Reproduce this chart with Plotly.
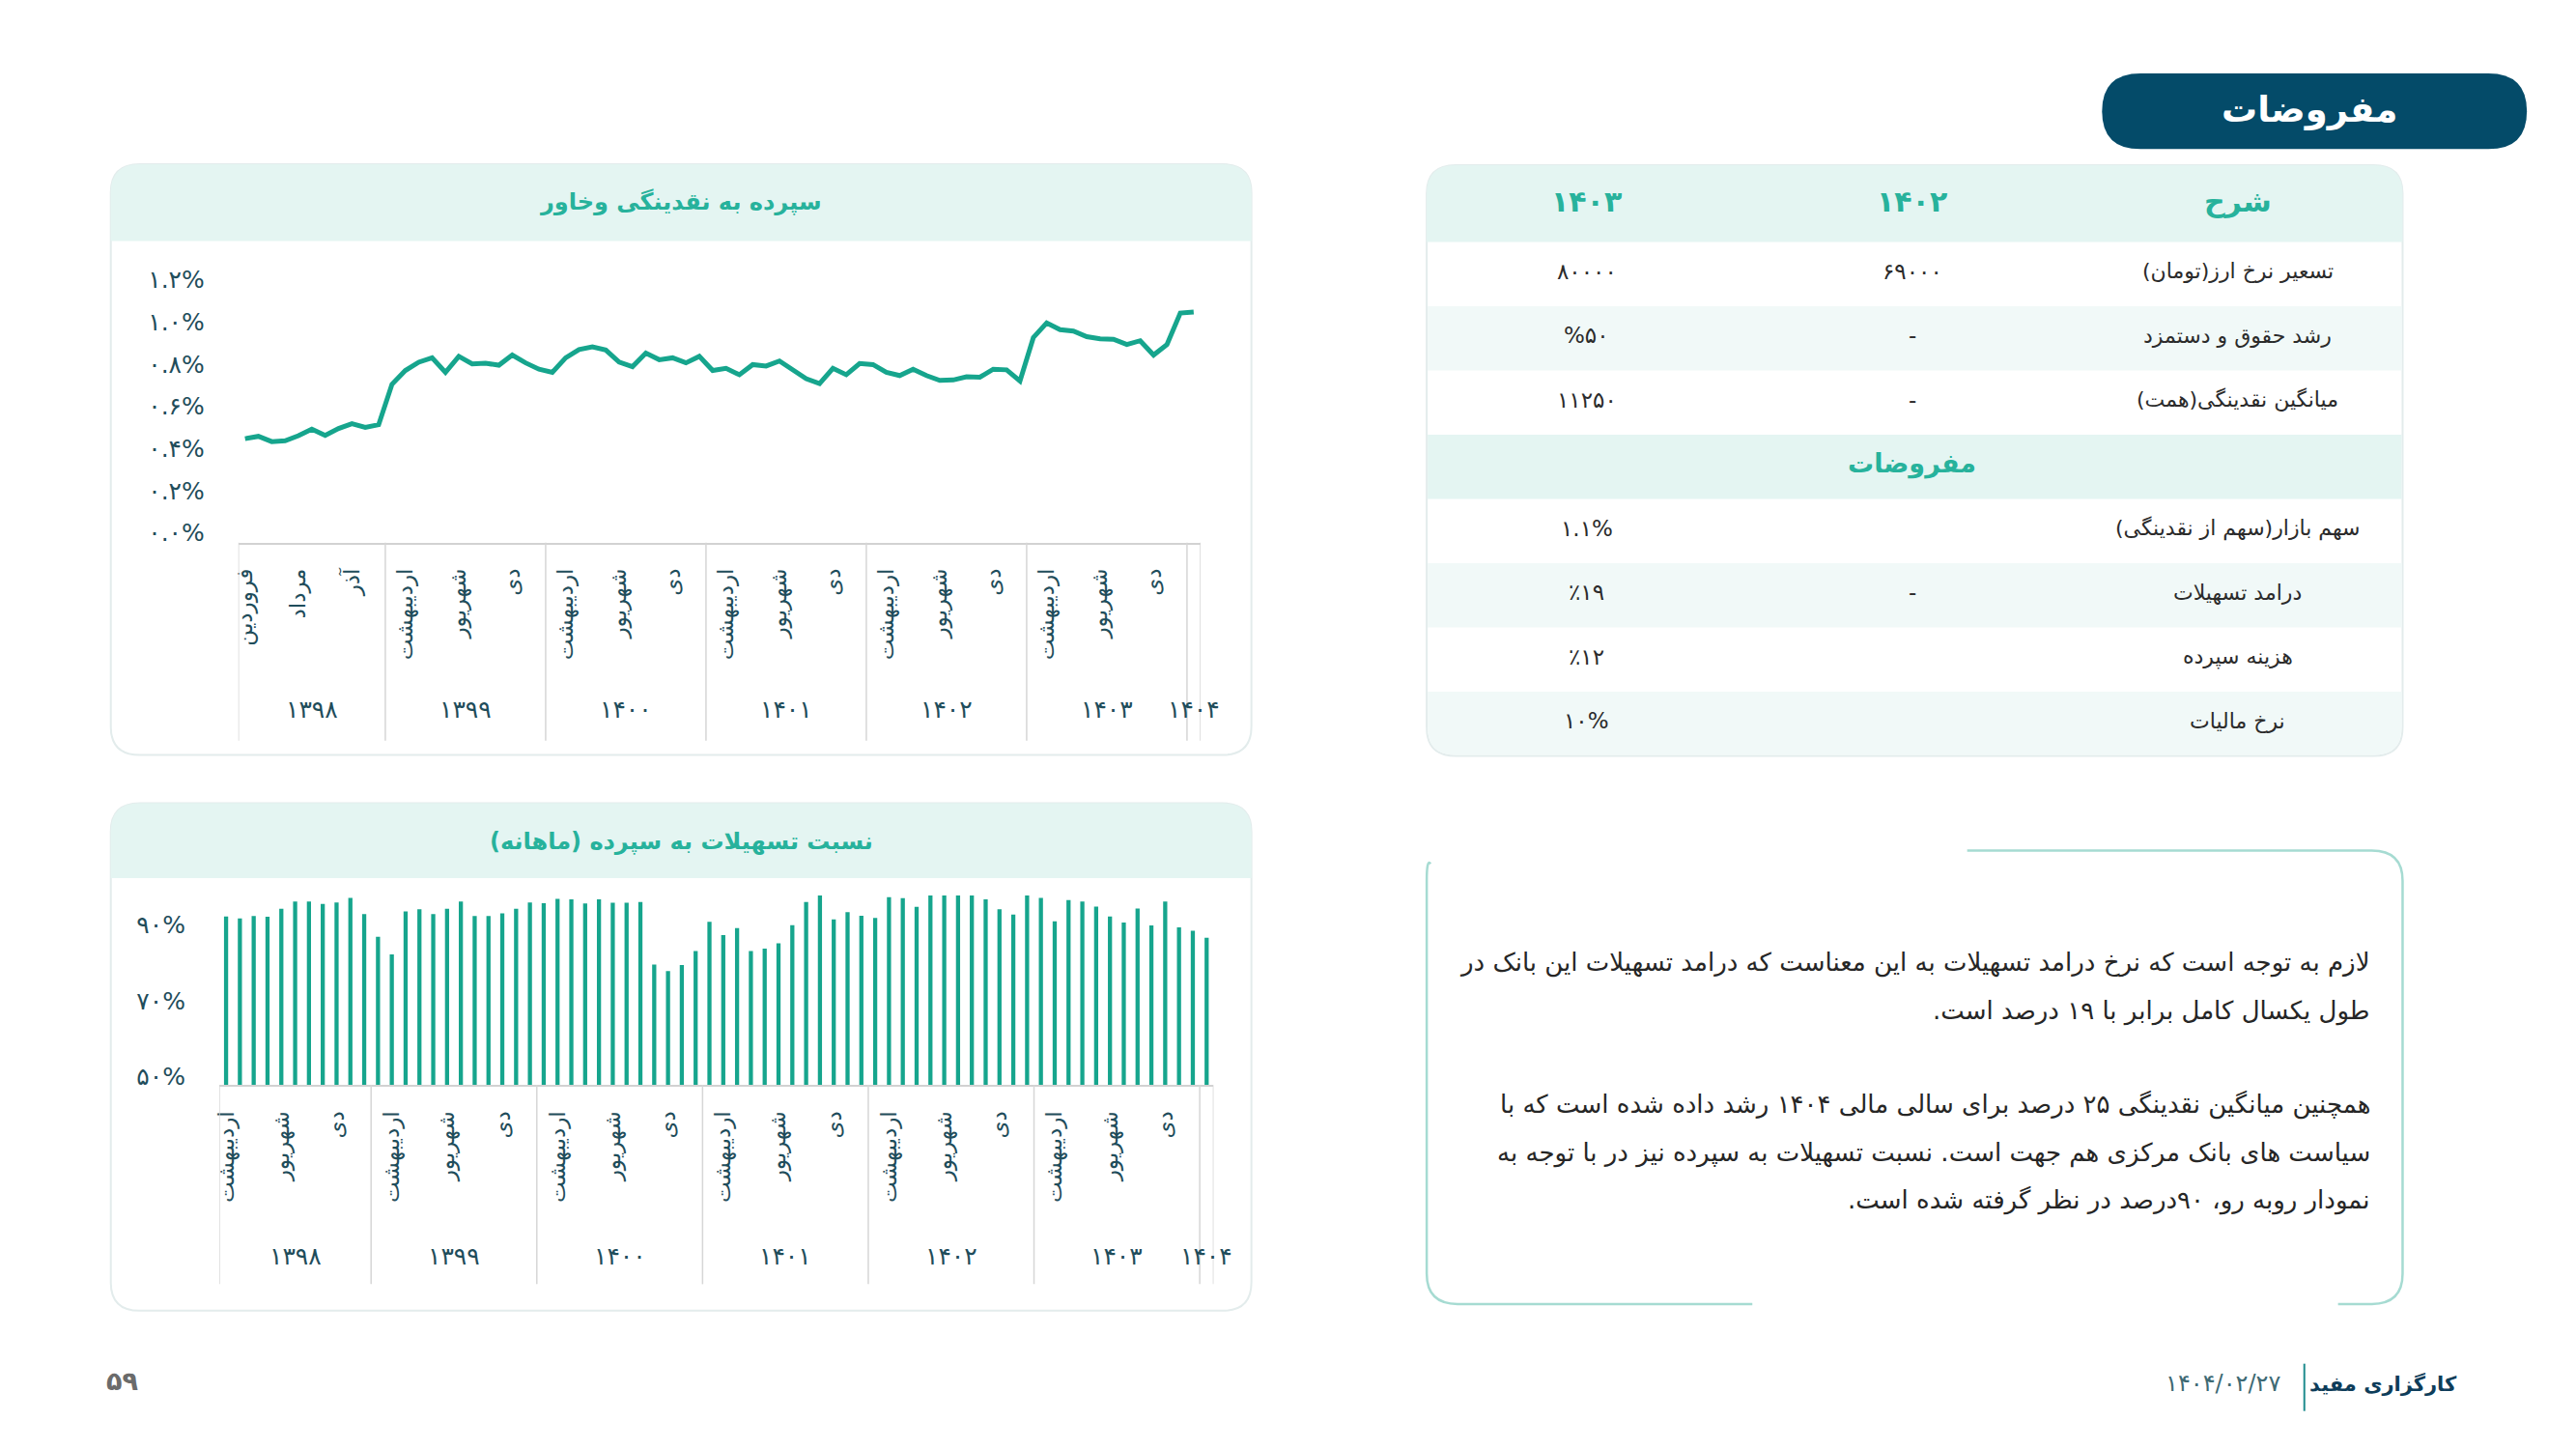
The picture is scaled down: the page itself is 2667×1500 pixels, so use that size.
import plotly.graph_objects as go

W, H = 2667, 1500
FONT = "DejaVu Sans"

# ---------------- data ----------------
MONTHS = ['فروردین', 'اردیبهشت', 'خرداد', 'تیر', 'مرداد', 'شهریور',
          'مهر', 'آبان', 'آذر', 'دی', 'بهمن', 'اسفند']
YEARS = ['۱۳۹۸', '۱۳۹۹', '۱۴۰۰', '۱۴۰۱', '۱۴۰۲', '۱۴۰۳', '۱۴۰۴']

line_months_per_year = [11, 12, 12, 12, 12, 12, 1]
line_start_month = 0
line_values = [0.492, 0.503, 0.478, 0.482, 0.506, 0.537, 0.507, 0.540, 0.563, 0.545, 0.558,
               0.750, 0.815, 0.854, 0.875, 0.806, 0.882, 0.846, 0.849, 0.840, 0.888, 0.851, 0.821,
               0.806, 0.875, 0.914, 0.927, 0.912, 0.855, 0.833, 0.897, 0.866, 0.875, 0.851, 0.882,
               0.815, 0.825, 0.795, 0.843, 0.836, 0.860, 0.815, 0.776, 0.753, 0.825, 0.795, 0.848,
               0.843, 0.806, 0.791, 0.821, 0.791, 0.768, 0.770, 0.785, 0.783, 0.821, 0.818, 0.765,
               0.971, 1.040, 1.008, 1.002, 0.975, 0.965, 0.963, 0.938, 0.956, 0.888, 0.938, 1.087,
               1.092]

bar_months_per_year = [11, 12, 12, 12, 12, 12, 1]
bar_start_month = 1
bar_values = [94.5, 94.0, 94.6, 94.4, 96.5, 98.4, 98.4, 97.8, 98.2, 99.4, 95.1,
              89.1, 84.5, 95.8, 96.4, 95.1, 96.5, 98.4, 94.6, 94.6, 95.3, 96.5, 98.2,
              98.0, 99.1, 99.0, 97.9, 99.0, 98.1, 98.1, 98.3, 81.8, 80.1, 81.7, 85.4,
              93.1, 89.6, 91.4, 85.4, 86.0, 87.4, 92.2, 98.3, 100.0, 93.7, 95.6, 94.7,
              94.1, 99.6, 99.3, 97.0, 100.0, 100.0, 100.0, 100.0, 99.0, 96.4, 95.0, 100.0,
              99.4, 93.2, 98.8, 98.4, 97.1, 94.5, 92.9, 96.6, 92.1, 98.4, 91.6, 90.7,
              88.9]

line_ytick_vals = [0, 0.2, 0.4, 0.6, 0.8, 1.0, 1.2]
line_ytick_text = ['۰.۰%', '۰.۲%', '۰.۴%', '۰.۶%', '۰.۸%', '۱.۰%', '۱.۲%']
bar_ytick_vals = [50, 70, 90]
bar_ytick_text = ['۵۰%', '۷۰%', '۹۰%']
label_step = 4

line_title = 'سپرده به نقدینگی وخاور'
bar_title = 'نسبت تسهیلات به سپرده (ماهانه)'
page_title = 'مفروضات'

table_header = ['شرح', '۱۴۰۲', '۱۴۰۳']
table_rows = ['تسعیر نرخ ارز(تومان)', 'رشد حقوق و دستمزد', 'میانگین نقدینگی(همت)', 'مفروضات',
              'سهم بازار(سهم از نقدینگی)', 'درامد تسهیلات', 'هزینه سپرده', 'نرخ مالیات']
table_1402 = ['۶۹۰۰۰', '-', '-', '', '', '-', '', '']
table_1403 = ['۸۰۰۰۰', '%۵۰', '۱۱۲۵۰', '', '۱.۱%', '٪۱۹', '٪۱۲', '۱۰%']
table_section_row = 3

note_lines = [
    'لازم به توجه است که نرخ درامد تسهیلات به این معناست که درامد تسهیلات این بانک در',
    'طول یکسال کامل برابر با ۱۹ درصد است.',
    'همچنین میانگین نقدینگی ۲۵ درصد برای سالی مالی ۱۴۰۴ رشد داده شده است که با',
    'سیاست های بانک مرکزی هم جهت است. نسبت تسهیلات به سپرده نیز در با توجه به',
    'نمودار روبه رو، ۹۰درصد در نظر گرفته شده است.',
]
footer_company = 'کارگزاری مفید'
footer_date = '۱۴۰۴/۰۲/۲۷'
footer_page = '۵۹'

# ---------------- helpers ----------------
TEAL = '#16a58d'
TITLE_TEAL = '#27b29c'
AXIS_TXT = '#1f4d5b'
MINT = '#e4f5f2'
FAINT = '#f1f9f8'


def X(x):
    return x / W


def Y(y):
    return 1 - y / H


def rtl(s):
    return '\u202b' + s + '\u202c'


def build_categories(counts, start):
    cats, labels, bounds = [], [], [0]
    for k, (yr, n) in enumerate(zip(YEARS, counts)):
        s = start if k == 0 else 0
        for j in range(n):
            m = MONTHS[(s + j) % 12]
            cats.append(f'{m} {yr}')
            labels.append(m)
        bounds.append(bounds[-1] + n)
    return cats, labels, bounds


def rrect(x0, y0, x1, y1, r, top=True, bottom=True):
    rt = r if top else 0
    rb = r if bottom else 0
    pts = [
        f'M {X(x0 + rt)},{Y(y0)}',
        f'L {X(x1 - rt)},{Y(y0)}',
        f'Q {X(x1)},{Y(y0)} {X(x1)},{Y(y0 + rt)}',
        f'L {X(x1)},{Y(y1 - rb)}',
        f'Q {X(x1)},{Y(y1)} {X(x1 - rb)},{Y(y1)}',
        f'L {X(x0 + rb)},{Y(y1)}',
        f'Q {X(x0)},{Y(y1)} {X(x0)},{Y(y1 - rb)}',
        f'L {X(x0)},{Y(y0 + rt)}',
        f'Q {X(x0)},{Y(y0)} {X(x0 + rt)},{Y(y0)}',
        'Z',
    ]
    return ' '.join(pts)


shapes = []
annotations = []


def panel(x0, y0, x1, y1, hb, r=30):
    shapes.append(dict(type='path', path=rrect(x0, y0, x1, y1, r), xref='paper', yref='paper',
                       fillcolor='white', line=dict(color='#e3ecec', width=2), layer='below'))
    shapes.append(dict(type='path', path=rrect(x0, y0, x1, hb, r, top=True, bottom=False),
                       xref='paper', yref='paper', fillcolor=MINT, line=dict(width=0), layer='below'))


def txt(x, y, s, size, color, bold=False, xanchor='center', yanchor='middle'):
    annotations.append(dict(x=X(x), y=Y(y), xref='paper', yref='paper', text=s, showarrow=False,
                            xanchor=xanchor, yanchor=yanchor,
                            font=dict(family=FONT, size=size, color=color,
                                      weight='bold' if bold else 'normal')))


# ---------------- panels ----------------
panel(108, 149, 1292, 773, 230)
panel(108, 824, 1292, 1360, 903)
txt(700, 189, rtl(line_title), 24, TITLE_TEAL, bold=True)
txt(700, 864, rtl(bar_title), 24, TITLE_TEAL, bold=True)

# ---------------- charts ----------------
line_cats, line_labels, line_bounds = build_categories(line_months_per_year, line_start_month)
bar_cats, bar_labels, bar_bounds = build_categories(bar_months_per_year, bar_start_month)

fig = go.Figure()
fig.add_trace(go.Scatter(x=line_cats, y=line_values, mode='lines',
                         line=dict(color=TEAL, width=5), xaxis='x', yaxis='y',
                         showlegend=False, hoverinfo='skip'))
fig.add_trace(go.Bar(x=bar_cats, y=bar_values, marker=dict(color=TEAL, line=dict(width=0)),
                     width=0.3, xaxis='x2', yaxis='y2', showlegend=False,
                     hoverinfo='skip'))

LINE_AX = dict(x0=240.4, x1=1239.0, y0=548.6, y1=281.0, div_bottom=758, year_y=725)
BAR_AX = dict(x0=220.5, x1=1252.7, y0=1121.8, y1=921.5, div_bottom=1332, year_y=1303)


def xaxis_cfg(cats, labels, ax):
    return dict(domain=[X(ax['x0']), X(ax['x1'])], type='category',
                range=[-0.5, len(cats) - 0.5],
                tickmode='array', tickvals=cats[::label_step], ticktext=labels[::label_step],
                tickangle=-90, tickfont=dict(family=FONT, size=23, color=AXIS_TXT),
                showline=True, linecolor='#d2d2d2', linewidth=1.5, showgrid=False,
                zeroline=False, ticks='', ticklabelstandoff=16, fixedrange=True)


def yaxis_cfg(ax, rng, vals, text, anchor, shift):
    return dict(domain=[Y(ax['y0']), Y(ax['y1'])], range=rng, anchor=anchor,
                tickmode='array', tickvals=vals, ticktext=text,
                tickfont=dict(family=FONT, size=25, color=AXIS_TXT), showgrid=False,
                zeroline=False, showline=False, ticks='', ticklabelstandoff=34,
                ticklabelshift=shift, fixedrange=True)


def add_groups(bounds, xref, ax):
    for b in bounds:
        shapes.append(dict(type='line', xref=xref, yref='paper', x0=b - 0.5, x1=b - 0.5,
                           y0=Y(ax['y0']), y1=Y(ax['div_bottom']),
                           line=dict(color='#d6d6d6', width=1.5)))
    for k, yr in enumerate(YEARS):
        mid = (bounds[k] + bounds[k + 1] - 1) / 2
        annotations.append(dict(x=mid, y=Y(ax['year_y']), xref=xref, yref='paper', text=yr,
                                showarrow=False, xanchor='center', yanchor='middle',
                                font=dict(family=FONT, size=25, color=AXIS_TXT)))


add_groups(line_bounds, 'x', LINE_AX)
add_groups(bar_bounds, 'x2', BAR_AX)

# ---------------- table ----------------
TX0, TX1, TY0, THB, TY1 = 1474, 2487, 150, 231, 774
col_x = [2316, 1978, 1640]
n_rows = len(table_rows)
row_h = (TY1 - THB) / n_rows
shapes.append(dict(type='path', path=rrect(TX0, TY0, TX1, TY1, 30), xref='paper', yref='paper',
                   fillcolor='white', line=dict(color='#e3ecec', width=2), layer='below'))
shapes.append(dict(type='path', path=rrect(TX0, TY0, TX1, THB, 30, True, False), xref='paper',
                   yref='paper', fillcolor=MINT, line=dict(width=0), layer='below'))
for i in range(n_rows):
    ya, yb = THB + i * row_h, THB + (i + 1) * row_h
    if i == table_section_row:
        fill = MINT
    elif i in (1, 5, 7):
        fill = FAINT
    else:
        fill = None
    if fill:
        last = i == n_rows - 1
        shapes.append(dict(type='path', path=rrect(TX0 + 1, ya, TX1 - 1, yb - (1 if last else 0),
                                                   29 if last else 0, False, last),
                           xref='paper', yref='paper', fillcolor=fill, line=dict(width=0),
                           layer='below'))
for cx, h in zip(col_x, table_header):
    txt(cx, (TY0 + THB) / 2 - 2, rtl(h), 30, TITLE_TEAL, bold=True)
for i in range(n_rows):
    yc = THB + (i + 0.5) * row_h - 3
    if i == table_section_row:
        txt(col_x[1], yc, rtl(table_rows[i]), 27, TITLE_TEAL, bold=True)
        continue
    txt(col_x[0], yc, rtl(table_rows[i]), 22, '#2b2b2b')
    if table_1402[i]:
        txt(col_x[1], yc, table_1402[i], 23, '#2b2b2b')
    if table_1403[i]:
        txt(col_x[2], yc, table_1403[i], 23, '#2b2b2b')

# ---------------- title pill ----------------
shapes.append(dict(type='path', path=rrect(2175, 53, 2616, 133, 40), xref='paper', yref='paper',
                   fillcolor='#044b69', line=dict(width=0), layer='below'))
txt(2390, 91, rtl(page_title), 37, 'white', bold=True)

# ---------------- note box ----------------
BX0, BY0, BX1, BY1, BR = 1474, 874, 2487, 1353, 32
frame_color = '#a6dbd2'
p1 = (f'M {X(2035)},{Y(BY0)} L {X(BX1 - BR)},{Y(BY0)} '
      f'Q {X(BX1)},{Y(BY0)} {X(BX1)},{Y(BY0 + BR)} L {X(BX1)},{Y(BY1 - BR)} '
      f'Q {X(BX1)},{Y(BY1)} {X(BX1 - BR)},{Y(BY1)} L {X(2420)},{Y(BY1)}')
p2 = (f'M {X(1812)},{Y(BY1)} L {X(BX0 + BR)},{Y(BY1)} '
      f'Q {X(BX0)},{Y(BY1)} {X(BX0)},{Y(BY1 - BR)} L {X(BX0)},{Y(BY0 + BR)} '
      f'Q {X(BX0)},{Y(BY0 + 8)} {X(BX0 + 4)},{Y(BY0 + 14)}')
for p in (p1, p2):
    shapes.append(dict(type='path', path=p, xref='paper', yref='paper',
                       line=dict(color=frame_color, width=2.5), layer='below'))
note_y = [992, 1043, 1142, 1193, 1243]
for s, yy in zip(note_lines, note_y):
    txt(2455, yy, rtl(s), 26, '#262626', xanchor='right')

# ---------------- footer ----------------
txt(120, 1434, footer_page, 27, '#6b6b6b', bold=True)
txt(2546, 1437, rtl(footer_company), 21, '#0e3d5a', bold=True, xanchor='right')
txt(2362, 1437, footer_date, 24, '#3e6a74', xanchor='right')
shapes.append(dict(type='line', xref='paper', yref='paper', x0=X(2385), x1=X(2385),
                   y0=Y(1416), y1=Y(1466), line=dict(color='#1f8c8e', width=2)))

fig.update_layout(
    width=W, height=H, margin=dict(l=0, r=0, t=0, b=0),
    paper_bgcolor='white', plot_bgcolor='rgba(0,0,0,0)',
    font=dict(family=FONT),
    xaxis=dict(xaxis_cfg(line_cats, line_labels, LINE_AX), anchor='y'),
    yaxis=yaxis_cfg(LINE_AX, [0, 1.2], line_ytick_vals, line_ytick_text, 'x', -10),
    xaxis2=dict(xaxis_cfg(bar_cats, bar_labels, BAR_AX), anchor='y2'),
    yaxis2=yaxis_cfg(BAR_AX, [50, 100], bar_ytick_vals, bar_ytick_text, 'x2', -9),
    shapes=shapes, annotations=annotations,
)

fig.write_html("out.html", config={'displayModeBar': False},
               post_script="document.body.style.margin='0';document.body.style.overflow='hidden';")
